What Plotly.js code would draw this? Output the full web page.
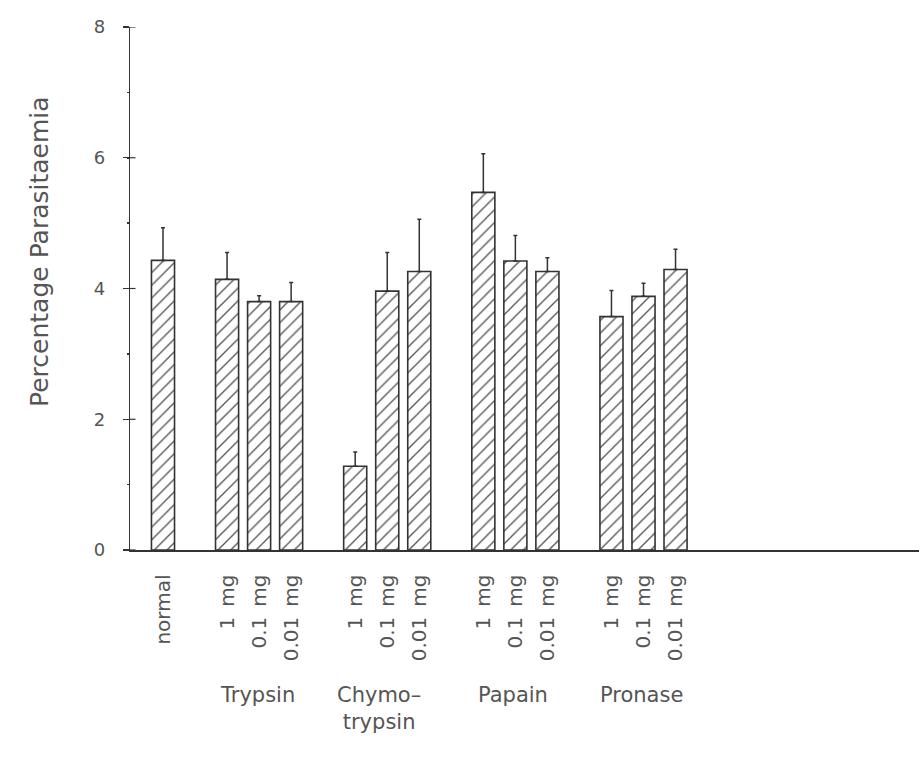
<!DOCTYPE html>
<html>
<head>
<meta charset="utf-8">
<script src="https://cdn.plot.ly/plotly-3.0.1.min.js"></script>
<style>html,body{margin:0;padding:0;background:#fff;}#chart{width:919px;height:774px;}</style>
</head>
<body>
<div id="chart"></div>
<script>
// ---- data ----
const controlLabel = "normal";
const controlValue = 4.43;
const controlError = 0.50;
const groupNames = ["Trypsin", "Chymo\u2013<br>trypsin", "Papain", "Pronase"];
const doses = ["1\u2002mg", "0.1\u2002mg", "0.01\u2002mg"];
const trypsinValues = [4.14, 3.80, 3.80];
const trypsinErrors = [0.41, 0.09, 0.29];
const chymoValues = [1.28, 3.96, 4.26];
const chymoErrors = [0.22, 0.59, 0.80];
const papainValues = [5.47, 4.42, 4.26];
const papainErrors = [0.59, 0.39, 0.21];
const pronaseValues = [3.57, 3.88, 4.29];
const pronaseErrors = [0.40, 0.20, 0.31];
const yTicks = [0, 2, 4, 6, 8];

// ---- build slot positions ----
const groupValues = [trypsinValues, chymoValues, papainValues, pronaseValues];
const groupErrors = [trypsinErrors, chymoErrors, papainErrors, pronaseErrors];
const xs = [0], ys = [controlValue], es = [controlError], labels = [controlLabel];
const groupCenters = [];
groupValues.forEach((vals, g) => {
  const start = 2 + 4 * g;
  vals.forEach((v, d) => {
    xs.push(start + d); ys.push(v); es.push(groupErrors[g][d]); labels.push(doses[d]);
  });
  groupCenters.push(start + (vals.length - 1) / 2);
});

const FONT = "DejaVu Sans, Open Sans, sans-serif";
const INK = "#333";
const TXT = "#555";

const bars = {
  type: "bar",
  x: xs, y: ys, width: 0.72,
  marker: {
    color: "#ffffff",
    line: {color: INK, width: 1.6},
    pattern: {shape: "/", fgcolor: "#555", bgcolor: "#ffffff", size: 9, solidity: 0.15}
  },
  error_y: {type: "data", symmetric: false, array: es, arrayminus: es.map(() => 0),
            color: INK, thickness: 1.5, width: 2},
  showlegend: false, hoverinfo: "skip"
};

const annotations = groupNames.map((name, i) => ({
  x: groupCenters[i], y: -0.25, xref: "x", yref: "paper",
  xanchor: "center", yanchor: "top", align: "center",
  xshift: i === 1 ? -8 : -2,
  text: name, showarrow: false,
  font: {family: FONT, size: 21, color: TXT}
}));
annotations.push({
  x: -0.114, y: 0.570, xref: "paper", yref: "paper",
  xanchor: "center", yanchor: "middle", textangle: -90,
  text: "Percentage Parasitaemia", showarrow: false,
  font: {family: FONT, size: 25, color: TXT}
});

// inner half of the crossing y ticks
const innerTicks = yTicks.map(t => ({
  type: "line", xref: "paper", yref: "y", x0: 0, x1: 0.007, y0: t, y1: t,
  line: {color: INK, width: 1.2}
}));

const layout = {
  width: 919, height: 774,
  margin: {l: 130, r: 0, t: 27, b: 224, pad: 0},
  paper_bgcolor: "#fff", plot_bgcolor: "#fff",
  font: {family: FONT, color: TXT},
  xaxis: {
    range: [-1.03, 23.6], showgrid: false, zeroline: false,
    showline: true, linecolor: INK, linewidth: 1.5,
    tickvals: xs, ticktext: labels, tickangle: -90, ticks: "",
    ticklabelstandoff: 15,
    tickfont: {family: FONT, size: 20, color: TXT}
  },
  yaxis: {
    range: [0, 8], showgrid: false, zeroline: false,
    showline: true, linecolor: INK, linewidth: 1.3,
    tickvals: yTicks, ticks: "outside", ticklen: 6, tickwidth: 1.2, tickcolor: INK,
    minor: {dtick: 1, ticks: "outside", ticklen: 2, tickwidth: 1.5, tickcolor: INK},
    ticklabelstandoff: 14,
    tickfont: {family: FONT, size: 18, color: TXT}
  },
  shapes: innerTicks,
  annotations: annotations,
  bargap: 0
};

Plotly.newPlot("chart", [bars], layout, {staticPlot: true, displayModeBar: false});
</script>
</body>
</html>
